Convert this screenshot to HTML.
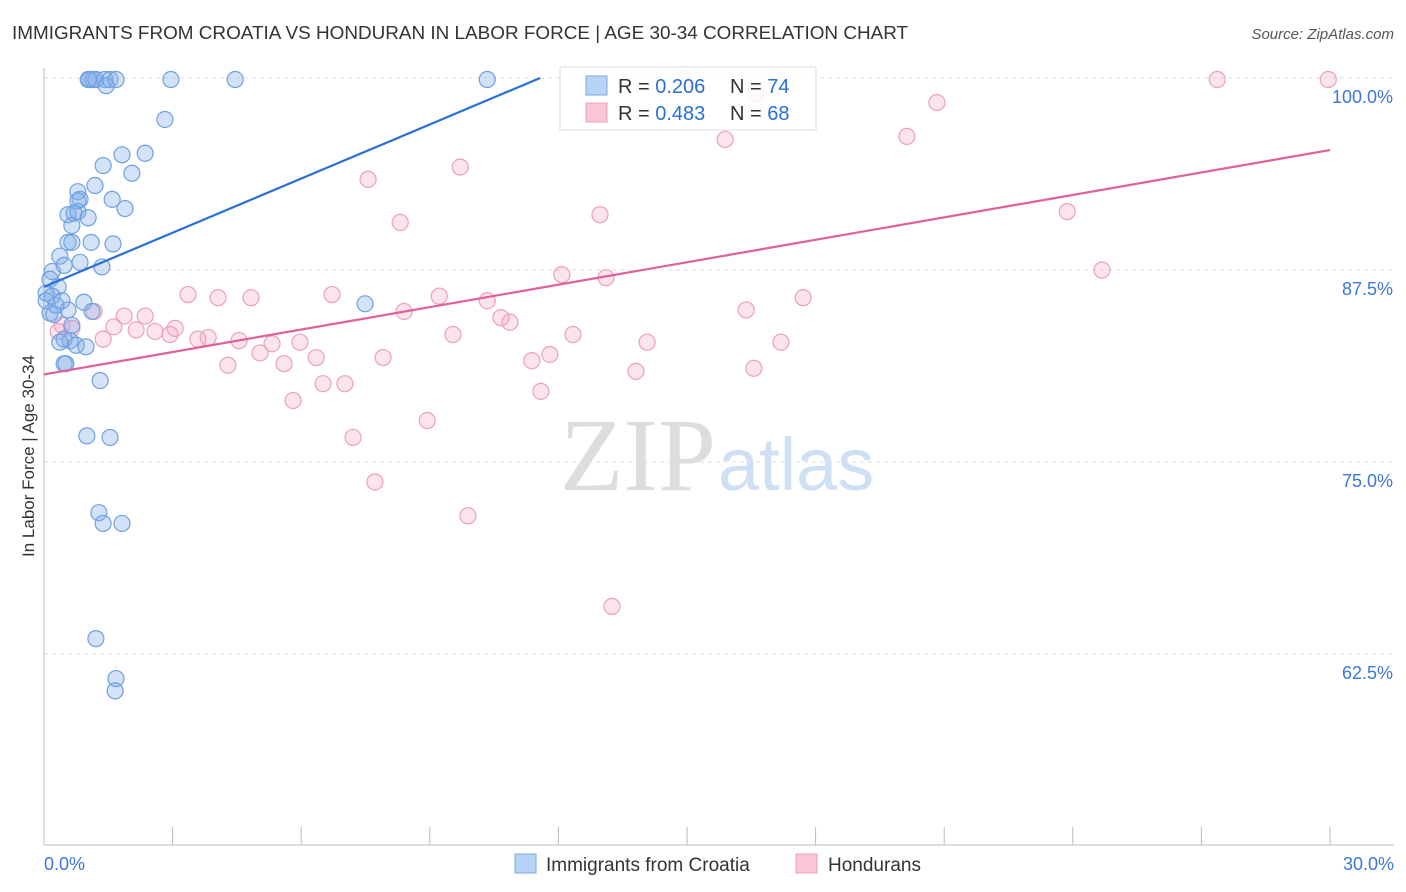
<!DOCTYPE html>
<html><head><meta charset="utf-8"><style>
body{margin:0;background:#fff;font-family:"Liberation Sans",sans-serif;}
#wrap{position:relative;width:1406px;height:892px;overflow:hidden;}
</style></head><body>
<div id="wrap">
<svg id="svg" width="1406" height="892" xmlns="http://www.w3.org/2000/svg">
<text x="12" y="39" font-size="18.9" fill="#333">IMMIGRANTS FROM CROATIA VS HONDURAN IN LABOR FORCE | AGE 30-34 CORRELATION CHART</text>
<text x="1394" y="39" font-size="15" fill="#555" font-style="italic" text-anchor="end">Source: ZipAtlas.com</text>
<text transform="translate(34,456) rotate(-90)" font-size="17" fill="#333" text-anchor="middle">In Labor Force | Age 30-34</text>
<text x="716" y="490" font-size="104" fill="#ddd" text-anchor="end" font-family="Liberation Serif,serif">ZIP</text>
<text x="718" y="490" font-size="74" fill="#cfe0f5">atlas</text>
<g id="grid"></g><g id="axes"></g><g id="pts"></g><g id="lines"></g>
<g>
<rect x="560" y="67" width="256" height="63" fill="#fff" fill-opacity="0.85" stroke="#ddd"/>
<rect x="586" y="76" width="21" height="19" fill="#b8d3f5" stroke="#7aaae6"/>
<rect x="586" y="103" width="21" height="19" fill="#f8c6d7" stroke="#eaa0bb"/>
<text x="618" y="93" font-size="20" fill="#333">R = <tspan fill="#2a6fd6">0.206</tspan></text>
<text x="730" y="93" font-size="20" fill="#333">N = <tspan fill="#2a6fd6">74</tspan></text>
<text x="618" y="120" font-size="20" fill="#333">R = <tspan fill="#2a6fd6">0.483</tspan></text>
<text x="730" y="120" font-size="20" fill="#333">N = <tspan fill="#2a6fd6">68</tspan></text>
</g>
<g>
<rect x="515" y="854" width="21" height="19" fill="#b8d3f5" stroke="#7aaae6"/>
<text x="546" y="871" font-size="19" fill="#333">Immigrants from Croatia</text>
<rect x="796" y="854" width="21" height="19" fill="#f8c6d7" stroke="#eaa0bb"/>
<text x="828" y="871" font-size="19" fill="#333">Hondurans</text>
</g>
</svg></div>
<script>
const yTicks=[100,87.5,75,62.5];
const yTickLabels=["100.0%","87.5%","75.0%","62.5%"];
const xTicks=[0,3,6,9,12,15,18,21,24,27,30];
const blueX=[1.03,1.07,1.14,1.21,1.42,1.54,1.68,1.45,2.96,4.46,10.34,2.82,1.82,2.36,1.38,2.05,1.19,0.79,0.84,0.79,1.59,1.89,0.56,0.79,0.70,1.03,0.65,0.56,1.10,0.65,1.61,0.37,0.84,0.47,1.35,0.19,0.14,0.33,0.05,0.19,0.42,0.93,0.56,0.14,0.23,1.12,0.65,0.47,0.61,0.37,0.75,0.98,0.51,0.47,1.31,1.00,1.54,1.28,1.38,1.82,7.49,1.21,1.68,1.66,0.05,0.28];
const blueY=[99.9,99.9,99.9,99.9,99.9,99.9,99.9,99.5,99.9,99.9,99.9,97.3,95.0,95.1,94.3,93.8,93.0,92.6,92.1,92.0,92.1,91.5,91.1,91.3,91.2,90.9,90.4,89.3,89.3,89.3,89.2,88.4,88.0,87.8,87.7,87.4,86.9,86.4,86.0,85.8,85.5,85.4,84.9,84.7,84.6,84.8,83.9,83.0,82.9,82.8,82.6,82.5,81.4,81.4,80.3,76.7,76.6,71.7,71.0,71.0,85.3,63.5,60.9,60.1,85.5,85.2];
const pinkX=[27.37,29.96,14.95,16.59,20.83,15.89,20.13,9.71,7.56,8.31,12.97,23.87,24.68,12.08,13.11,3.36,4.06,4.83,6.72,9.22,10.34,17.71,8.40,16.38,10.66,10.87,1.17,2.36,1.87,1.63,0.42,0.65,2.15,2.59,3.06,2.94,3.59,3.83,4.55,5.32,5.97,9.54,12.34,14.07,17.19,1.38,5.04,5.60,6.35,7.91,11.80,11.38,4.29,13.81,16.56,6.51,7.02,11.59,5.81,8.94,7.21,7.72,9.89,13.25,0.33];
const pinkY=[99.9,99.9,99.9,99.0,98.4,96.0,96.2,94.2,93.4,90.6,91.1,91.3,87.5,87.2,87.0,85.9,85.7,85.7,85.9,85.8,85.5,85.7,84.8,84.9,84.4,84.1,84.8,84.5,84.5,83.8,83.9,83.7,83.6,83.5,83.7,83.3,83.0,83.1,82.9,82.7,82.8,83.3,83.3,82.8,82.8,83.0,82.1,81.4,81.8,81.8,82.0,81.6,81.3,80.9,81.1,80.1,80.1,79.6,79.0,77.7,76.6,73.7,71.5,65.6,83.5];
const blueTrend=[86.4,1.175];   // intercept, slope per %
const pinkTrend=[80.7,0.487];
const X=v=>44+v/30*1286, Y=v=>78+(100-v)/12.5*192;
const NS="http://www.w3.org/2000/svg";
function mk(t,a,p){const e=document.createElementNS(NS,t);for(const k in a)e.setAttribute(k,a[k]);p.appendChild(e);return e;}
const grid=document.getElementById('grid'),axes=document.getElementById('axes'),pts=document.getElementById('pts'),lines=document.getElementById('lines');
yTicks.forEach((v,i)=>{
 const g=mk('line',{x1:44,x2:1394,y1:Y(v),y2:Y(v),stroke:'#ddd','stroke-dasharray':'4,4'},grid);
 
 
 const t=mk('text',{x:1393,y:Y(v)+25,'font-size':18,fill:'#3b78d8','text-anchor':'end'},axes);
 t.textContent=yTickLabels[i];
 
 
});
const xa=mk('line',{x1:44,x2:1394,y1:845,y2:845,stroke:'#bbb'},axes);


const ya=mk('line',{x1:44,x2:44,y1:68,y2:845,stroke:'#bbb'},axes);


xTicks.forEach(v=>{const l=mk('line',{x1:X(v),x2:X(v),y1:827,y2:845,stroke:'#bbb'},axes);
 
 });
[[0,"0.0%",'start',44],[30,"30.0%",'end',1394]].forEach(([v,s,a,x])=>{const t=mk('text',{x:x,y:870,'font-size':18,fill:'#3b78d8','text-anchor':a},axes);t.textContent=s;
 
 });
pinkX.forEach((x,i)=>{const c=mk('circle',{cx:X(x),cy:Y(pinkY[i]),r:8,fill:'rgba(244,166,196,0.3)',stroke:'#eba0bd','stroke-width':1.2},pts);
 
 });
blueX.forEach((x,i)=>{const c=mk('circle',{cx:X(x),cy:Y(blueY[i]),r:8,fill:'rgba(130,172,232,0.35)',stroke:'#6fa0e0','stroke-width':1.2},pts);
 
 });
const bEnd=(100-blueTrend[0])/blueTrend[1];
const bl=mk('line',{x1:X(0),y1:Y(blueTrend[0]),x2:X(bEnd),y2:Y(100),stroke:'#2a6fd6','stroke-width':2.2},lines);


const pl=mk('line',{x1:X(0),y1:Y(pinkTrend[0]),x2:X(30),y2:Y(pinkTrend[0]+30*pinkTrend[1]),stroke:'#e0609a','stroke-width':2.2},lines);


</script>
</body></html>
